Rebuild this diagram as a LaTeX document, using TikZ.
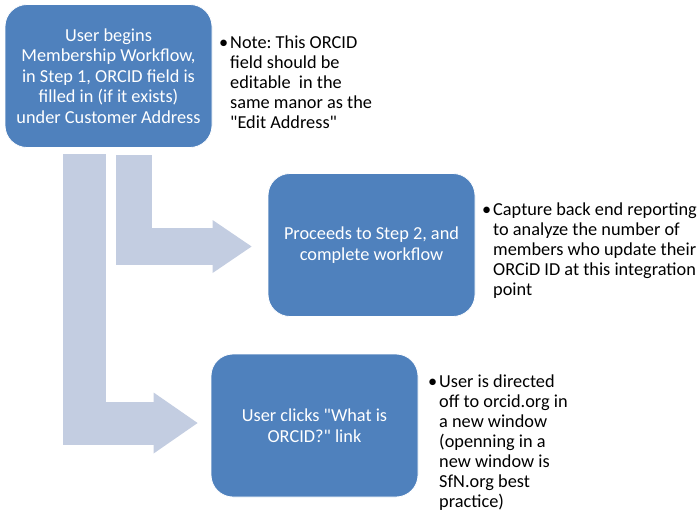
\documentclass[tikz,border=0pt]{standalone}
\usepackage{fontspec}
\setmainfont{Carlito}[Ligatures=TeXOff]
\usetikzlibrary{arrows.meta}
\definecolor{boxblue}{HTML}{4F81BD}
\definecolor{arrowblue}{HTML}{C3CDE1}
\frenchspacing

\begin{document}
\begin{tikzpicture}[x=1pt,y=-1pt,
    stepbox/.style={rectangle, rounded corners=22pt, fill=boxblue, draw=white, line width=0.8pt,
        text=white, align=center, minimum width=207pt, minimum height=143pt, inner sep=0pt,
        font=\fontsize{18.3pt}{20.5pt}\selectfont},
    notetext/.style={anchor=north west, align=left, inner sep=0pt,
        font=\fontsize{18.3pt}{19.9pt}\selectfont},
    bigarrow/.style={draw=arrowblue, line join=miter}]
    \useasboundingbox (0,0) rectangle (698,512);

    % Steps
    \node[stepbox] (intro) at (108.5,76) {User begins\\Membership Workflow,\\in Step 1, ORCID field is\\filled in (if it exists)\\under Customer Address};
    \node[stepbox] (proceed) at (371.5,245) {Proceeds to Step 2, and\\complete workflow};
    \node[stepbox] (click) at (314.5,425.5) {User clicks "What is\\ORCID?" link};

    % Notes
    \node[notetext] (introNote) at (230,36) {\llap{•\hspace{2pt}}Note: This ORCID\\field should be\\editable\ \ in the\\same manor as the\\"Edit Address"};
    \node[notetext] (proceedNote) at (493,203) {\llap{•\hspace{2pt}}Capture back end reporting\\to analyze the number of\\members who update their\\ORCiD ID at this integration\\point};
    \node[notetext] (clickNote) at (439,375) {\llap{•\hspace{2pt}}User is directed\\off to orcid.org in\\a new window\\(openning in a\\new window is\\SfN.org best\\practice)};

    % Arrows
    \draw[bigarrow, line width=36.5pt, -{Triangle[length=39pt,width=53pt,line width=0pt]}]
        ([xshift=25.5pt,yshift=-7.5pt]intro.south) |- ([xshift=-16pt,yshift=-1.5pt]proceed.west);
    \draw[bigarrow, line width=43pt, -{Triangle[length=44pt,width=61pt,line width=0pt]}]
        ([xshift=-24pt,yshift=-6.5pt]intro.south) |- ([xshift=-13pt,yshift=2.5pt]click.west);
\end{tikzpicture}
\end{document}
